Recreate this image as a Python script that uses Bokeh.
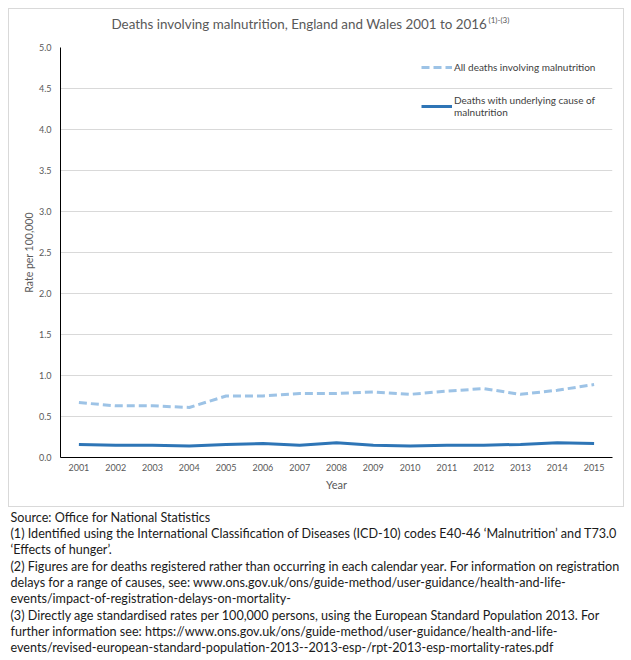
from bokeh.plotting import figure
from bokeh.layouts import column
from bokeh.models import (ColumnDataSource, Label, Legend, LegendItem, Range1d,
                          FixedTicker, NumeralTickFormatter)
from bokeh.embed import file_html
from bokeh.resources import INLINE

# ---- data ----
years = [str(y) for y in range(2001, 2016)]
all_deaths = [0.67, 0.63, 0.63, 0.61, 0.75, 0.75, 0.78, 0.78, 0.80, 0.77, 0.81, 0.84, 0.77, 0.82, 0.89]
underlying = [0.16, 0.15, 0.15, 0.14, 0.16, 0.17, 0.15, 0.18, 0.15, 0.14, 0.15, 0.15, 0.16, 0.18, 0.17]
y_ticks = [0.0, 0.5, 1.0, 1.5, 2.0, 2.5, 3.0, 3.5, 4.0, 4.5, 5.0]

title_text = "Deaths involving malnutrition, England and Wales 2001 to 2016"
title_sup = "(1)-(3)"
series_names = ["All deaths involving malnutrition",
                "Deaths with underlying cause of\nmalnutrition"]
footnotes = [
    "Source: Office for National Statistics",
    "(1) Identified using the International Classification of Diseases (ICD-10) codes E40-46 \u2018Malnutrition\u2019 and T73.0",
    "\u2018Effects of hunger\u2019.",
    "(2) Figures are for deaths registered rather than occurring in each calendar year. For information on registration",
    "delays for a range of causes, see: www.ons.gov.uk/ons/guide-method/user-guidance/health-and-life-",
    "events/impact-of-registration-delays-on-mortality-",
    "(3) Directly age standardised rates per 100,000 persons, using the European Standard Population 2013. For",
    "further information see: https://www.ons.gov.uk/ons/guide-method/user-guidance/health-and-life-",
    "events/revised-european-standard-population-2013--2013-esp-/rpt-2013-esp-mortality-rates.pdf",
]

FONT = "Lato"
GRAY = "#595959"
BOX_W = 614


def blank_fig(w, h):
    f = figure(width=w, height=h, x_range=Range1d(0, w), y_range=Range1d(0, h),
               x_axis_type=None, y_axis_type=None,
               output_backend="svg", toolbar_location=None,
               min_border=0, min_border_left=0, min_border_right=0,
               min_border_top=0, min_border_bottom=0)
    f.grid.visible = False
    f.outline_line_color = None
    f.background_fill_color = None
    f.border_fill_color = None
    return f


# ---- title strip (its frame is aligned with the chart frame, which starts 51px in) ----
TH = 32
tfig = blank_fig(BOX_W, TH)
tfig.add_layout(Label(x=51, y=TH - 14, x_units="screen", y_units="screen", text=title_text,
                      text_align="left", text_baseline="middle", text_font=FONT,
                      text_font_size="13.4px", text_color=GRAY))
tfig.add_layout(Label(x=428, y=TH - 10, x_units="screen", y_units="screen", text=title_sup,
                      text_align="left", text_baseline="middle", text_font=FONT,
                      text_font_size="8px", text_color=GRAY))

# ---- main chart ----
src = ColumnDataSource(dict(year=years, all=all_deaths, und=underlying))

p = figure(x_range=years, y_range=(0, 5), width=BOX_W, height=465,
           output_backend="svg", toolbar_location=None,
           min_border_left=51, min_border_right=11, min_border_top=6, min_border_bottom=49)
p.outline_line_color = None
p.background_fill_color = None
p.border_fill_color = None

r1 = p.line("year", "all", source=src, line_color="#9DC3E6", line_width=3, line_dash="8 4")
r2 = p.line("year", "und", source=src, line_color="#2E75B6", line_width=3)

p.yaxis.ticker = FixedTicker(ticks=y_ticks)
p.yaxis.formatter = NumeralTickFormatter(format="0.0")
for ax in (p.xaxis[0], p.yaxis[0]):
    ax.major_tick_line_color = None
    ax.minor_tick_line_color = None
    ax.major_tick_out = 0
    ax.major_tick_in = 0
    ax.minor_tick_out = 0
    ax.axis_line_color = "black"
    ax.axis_line_width = 1
    ax.major_label_text_color = GRAY
    ax.major_label_text_font = FONT
    ax.major_label_text_font_size = "9px"
    ax.axis_label_text_color = GRAY
    ax.axis_label_text_font = FONT
    ax.axis_label_text_font_style = "normal"
p.yaxis.major_label_standoff = 9
p.yaxis.axis_label = "Rate per 100,000"
p.yaxis.axis_label_text_font_size = "10.5px"
p.yaxis.axis_label_standoff = 1
p.xaxis.major_label_standoff = 6
p.xaxis.axis_label = "Year"
p.xaxis.axis_label_text_font_size = "11px"
p.xaxis.axis_label_standoff = 4
p.xgrid.grid_line_color = None
p.ygrid.grid_line_color = "#d9d9d9"
p.ygrid.ticker = FixedTicker(ticks=y_ticks)

legend = Legend(items=[LegendItem(label=series_names[0], renderers=[r1]),
                       LegendItem(label=series_names[1], renderers=[r2])],
                location=(361, 339), orientation="vertical",
                background_fill_alpha=0, border_line_color=None,
                label_text_font=FONT, label_text_font_size="10px", label_text_color="#404040",
                glyph_width=31, glyph_height=14, label_standoff=2, spacing=20, padding=0, margin=0)
p.add_layout(legend, "center")

box = column(tfig, p, margin=(8, 0, 0, 8),
             styles={"border": "1px solid #d9d9d9", "box-sizing": "border-box"})

# ---- footnotes ----
FH = 154
ffig = blank_fig(631, FH)
for i, line in enumerate(footnotes):
    ffig.add_layout(Label(x=10, y=FH - (9.7 + i * 16.3), x_units="screen", y_units="screen",
                          text=line, text_align="left", text_baseline="middle", text_font=FONT,
                          text_font_size="12.6px", text_color="#1a1a1a"))

layout = column(box, ffig, spacing=0)
open("out.html", "w").write(file_html(layout, INLINE))
